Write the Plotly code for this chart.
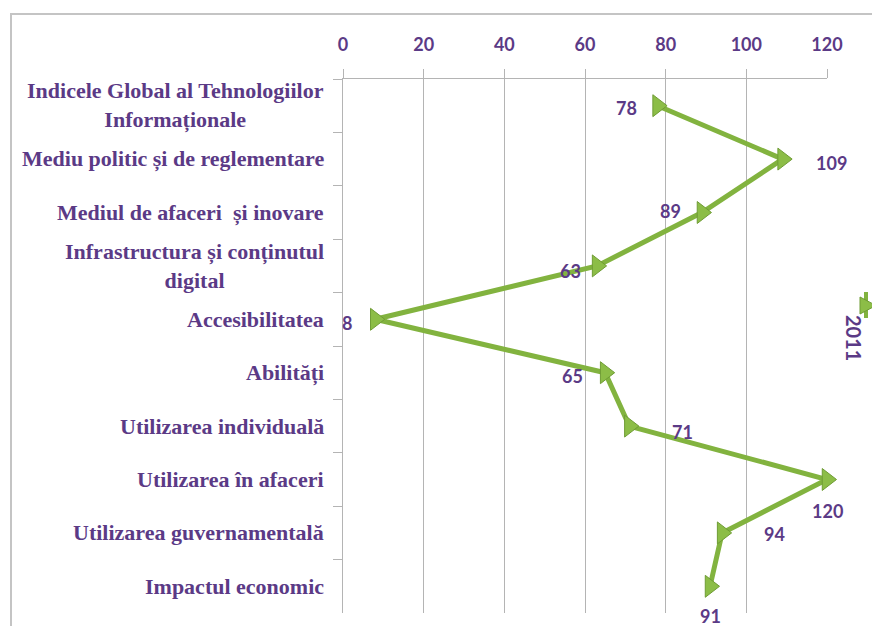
import plotly.graph_objects as go

categories = [
    "Indicele Global al Tehnologiilor<br>Informaționale",
    "Mediu politic și de reglementare",
    "Mediul de afaceri \u00a0și inovare",
    "Infrastructura și conținutul<br>digital",
    "Accesibilitatea",
    "Abilități",
    "Utilizarea individuală",
    "Utilizarea în afaceri",
    "Utilizarea guvernamentală",
    "Impactul economic",
]
values_2011 = [78, 109, 89, 63, 8, 65, 71, 120, 94, 91]
series_name = "2011"
x_ticks = [0, 20, 40, 60, 80, 100, 120]

# label offsets (pixels) for the data labels
label_dx = [-31, 49, -31, -27, -28, -33, 53, 0, 52, 0]
label_dy = [-2, -4, 2, -5, -4, -3, -6, -31, -1, -30]

OFF = 8  # page body margin
W, H = 880 - OFF, 626 - OFF
L, T = 343 - OFF, 79 - OFF
R = W - (827 - OFF)
B = H - (613 - OFF)
PW, PH = W - L - R, H - T - B

def px(x):
    return (x - OFF - L) / PW

def py(y):
    return (H - B - (y - OFF)) / PH

purple = "#5b3a86"
green = "#82b33f"

fig = go.Figure()
fig.add_trace(go.Scatter(
    x=values_2011, y=categories, mode="lines+markers", name=series_name,
    line=dict(color=green, width=5),
    marker=dict(symbol="triangle-right", size=19, color="#8cbd47",
                line=dict(color="#6f9c35", width=1)),
    showlegend=False, cliponaxis=False,
))

annotations = []
# category labels (centred multi-line, right aligned block)
for c in categories:
    annotations.append(dict(
        x=px(326), y=c, xref="paper", yref="y", text=c, showarrow=False,
        xanchor="right", yanchor="middle", align="center",
        font=dict(family="Liberation Serif", size=22, color=purple, weight="bold"),
    ))

for v, c, dx, dy in zip(values_2011, categories, label_dx, label_dy):
    annotations.append(dict(
        x=v, y=c, xref="x", yref="y", text=str(v), showarrow=False,
        xshift=dx, yshift=dy,
        font=dict(family="Lato", size=18, color=purple, weight="bold"),
    ))

# rotated legend
annotations.append(dict(
    x=px(868), y=py(338), xref="paper", yref="paper", text="<b>" + series_name + "</b>",
    textangle=90, showarrow=False, font=dict(family="Lato", size=20, color=purple),
))

tri = "M {:.4f},{:.4f} L {:.4f},{:.4f} L {:.4f},{:.4f} Z".format(
    px(860), py(297), px(860), py(314), px(876), py(305.5))

shapes = [
    dict(type="rect", xref="paper", yref="paper",
         x0=px(11), x1=px(900), y0=py(14), y1=py(650),
         line=dict(color="#c4c4c4", width=2), fillcolor="rgba(0,0,0,0)", layer="below"),
    dict(type="line", xref="paper", yref="paper",
         x0=px(866), x1=px(866), y0=py(292), y1=py(318),
         line=dict(color=green, width=4)),
    dict(type="path", xref="paper", yref="paper", path=tri,
         fillcolor="#8cbd47", line=dict(color="#6f9c35", width=1)),
]

fig.update_layout(
    width=W, height=H,
    margin=dict(l=L, r=R, t=T, b=B),
    paper_bgcolor="white", plot_bgcolor="white",
    annotations=annotations, shapes=shapes,
    xaxis=dict(
        side="top", range=[0, 120], tickvals=x_ticks, ticktext=[str(t) for t in x_ticks],
        showgrid=True, gridcolor="#b4b4b4", gridwidth=1,
        showline=True, linecolor="#b4b4b4", linewidth=1,
        ticks="outside", ticklen=9, tickcolor="#b4b4b4",
        ticklabelstandoff=11, zeroline=False,
        tickfont=dict(family="Lato", size=18, color=purple, weight="bold"),
    ),
    yaxis=dict(
        type="category", categoryorder="array", categoryarray=categories,
        range=[9.5, -0.5], showgrid=False, showticklabels=False,
        showline=True, linecolor="#b4b4b4", linewidth=1,
        ticks="outside", ticklen=9, tickcolor="#b4b4b4", tickson="boundaries",
    ),
)

fig.write_html("out.html")
